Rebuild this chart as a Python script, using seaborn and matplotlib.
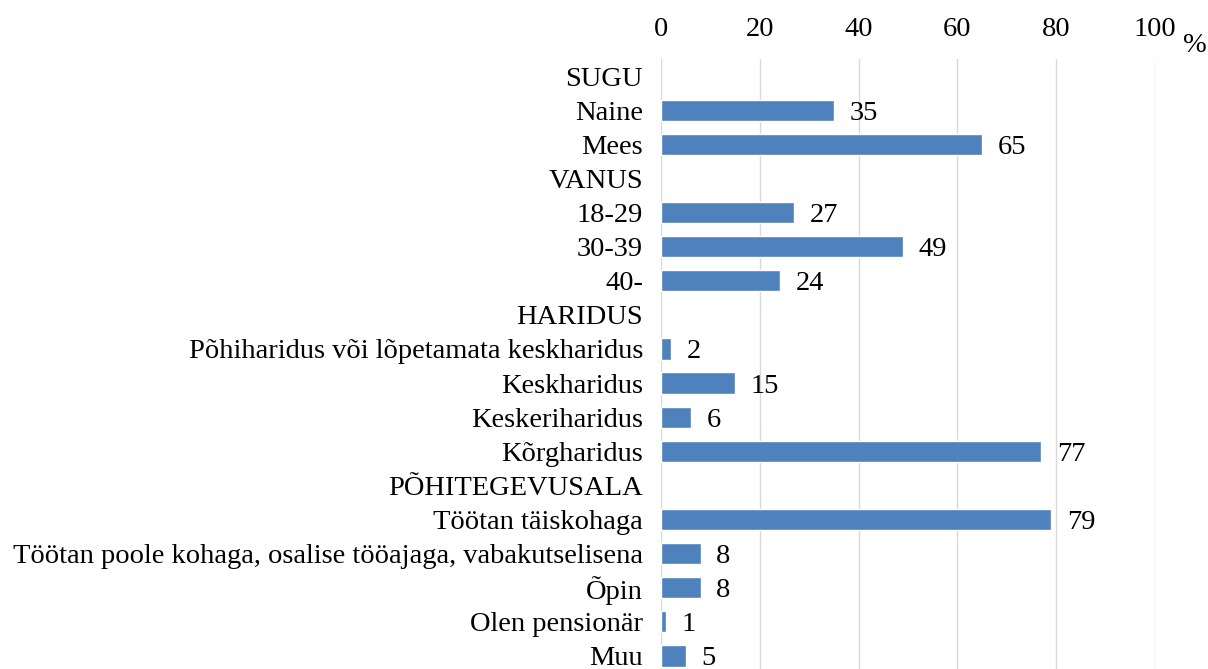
import numpy as np
import pandas as pd
import matplotlib
matplotlib.use('Agg')
import matplotlib.pyplot as plt
import seaborn as sns

# Survey respondent profile (%)
categories = ['SUGU', 'Naine', 'Mees',
              'VANUS', '18-29', '30-39', '40-',
              'HARIDUS', 'Põhiharidus või lõpetamata keskharidus', 'Keskharidus',
              'Keskeriharidus', 'Kõrgharidus',
              'PÕHITEGEVUSALA', 'Töötan täiskohaga',
              'Töötan poole kohaga, osalise tööajaga, vabakutselisena',
              'Õpin', 'Olen pensionär', 'Muu']
values = [np.nan, 35, 65,
          np.nan, 27, 49, 24,
          np.nan, 2, 15, 6, 77,
          np.nan, 79, 8, 8, 1, 5]
x_ticks = [0, 20, 40, 60, 80, 100]

df = pd.DataFrame({'group': categories, 'pct': values})

sns.set_style('white')
plt.rcParams['font.family'] = ['Liberation Serif', 'DejaVu Serif']
plt.rcParams['text.color'] = 'black'
plt.rcParams['xtick.color'] = 'black'
plt.rcParams['ytick.color'] = 'black'

FS = 20.5

fig = plt.figure(figsize=(12.08, 6.69), dpi=100)
ax = fig.add_axes([661 / 1208, -4 / 669, 494 / 1208, 614 / 669])

sns.barplot(data=df, y='group', x='pct', orient='h', order=categories,
            color='#4F81BD', saturation=1, width=0.62, ax=ax)

# value labels next to bars
for i, v in enumerate(values):
    if not np.isnan(v):
        ax.text(v + 3.2, i, f'{v:g}', va='center_baseline', ha='left', fontsize=FS)

ax.set_xlim(0, 100)
ax.set_ylim(len(categories) - 0.5, -0.5)
ax.set_xticks(x_ticks)
ax.xaxis.tick_top()
ax.tick_params(axis='x', length=0, labelsize=FS, pad=12)
ax.tick_params(axis='y', length=0, labelsize=FS, pad=13)
ax.xaxis.grid(True, color='#D9D9D9', linewidth=1)
ax.set_axisbelow(True)
for s in ax.spines.values():
    s.set_visible(False)
ax.set_xlabel('')
ax.set_ylabel('')

fig.text(1183 / 1208, 1 - 45 / 669, '%', fontsize=FS, ha='left', va='center')

fig.savefig('out.png', dpi=100)
